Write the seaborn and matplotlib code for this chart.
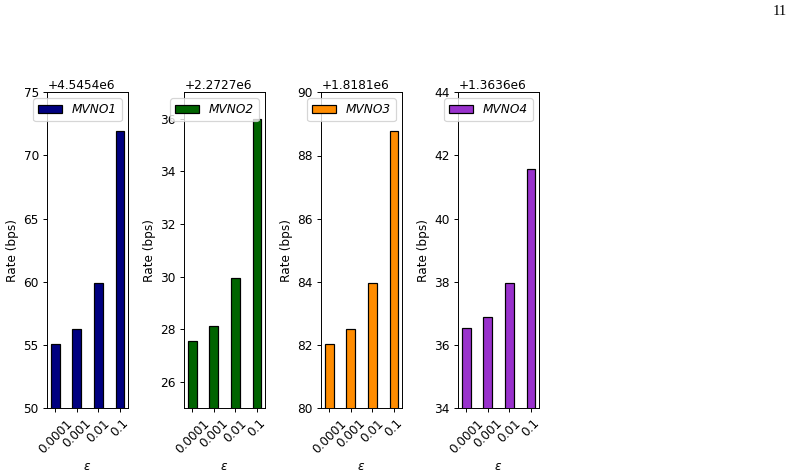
import pandas as pd
import matplotlib
matplotlib.use("Agg")
import matplotlib.pyplot as plt
import seaborn as sns

# Data
eps_labels = ["0.0001", "0.001", "0.01", "0.1"]
mvno_names = ["MVNO1", "MVNO2", "MVNO3", "MVNO4"]
rate_mvno1 = [4545455.10, 4545456.25, 4545459.94, 4545471.92]
rate_mvno2 = [2272727.55, 2272728.12, 2272729.96, 2272736.00]
rate_mvno3 = [1818182.05, 1818182.50, 1818183.97, 1818188.76]
rate_mvno4 = [1363636.53, 1363636.88, 1363637.97, 1363641.56]
y_limits = [(4545450, 4545475), (2272725, 2272737),
            (1818180, 1818190), (1363634, 1363644)]
colors = ["#000080", "#006400", "#FF8C00", "#9932CC"]

rates = [rate_mvno1, rate_mvno2, rate_mvno3, rate_mvno4]

plt.rcParams["font.family"] = ["DejaVu Sans"]

# 792 x 476 px
DPI = 87
fig = plt.figure(figsize=(792 / DPI, 476 / DPI), dpi=DPI)
W, H = 792.0, 476.0

for i, (name, vals, ylim, col) in enumerate(zip(mvno_names, rates, y_limits, colors)):
    left = 47.3 + 137 * i
    ax = fig.add_axes([left / W, (H - 408.3) / H, 80.5 / W, 316 / H])
    df = pd.DataFrame({"eps": eps_labels, "rate": vals})
    sns.barplot(data=df, x="eps", y="rate", color=col, edgecolor="black",
                linewidth=1.0, width=0.4, errorbar=None, saturation=1,
                label=name, ax=ax)
    ax.set_ylim(*ylim)
    ax.set_xlim(-0.37, 3.37)
    ax.set_ylabel("Rate (bps)")
    ax.set_xlabel(r"$\epsilon$")
    ax.tick_params(axis="x", rotation=45)
    ax.legend(loc="upper right", prop={"style": "italic"})

# page number from the source document
fig.text(787 / W, 1 - 5 / H, "11", family="Liberation Serif", fontsize=12,
         ha="right", va="top")

fig.savefig("out.png", dpi=DPI)
plt.close(fig)
